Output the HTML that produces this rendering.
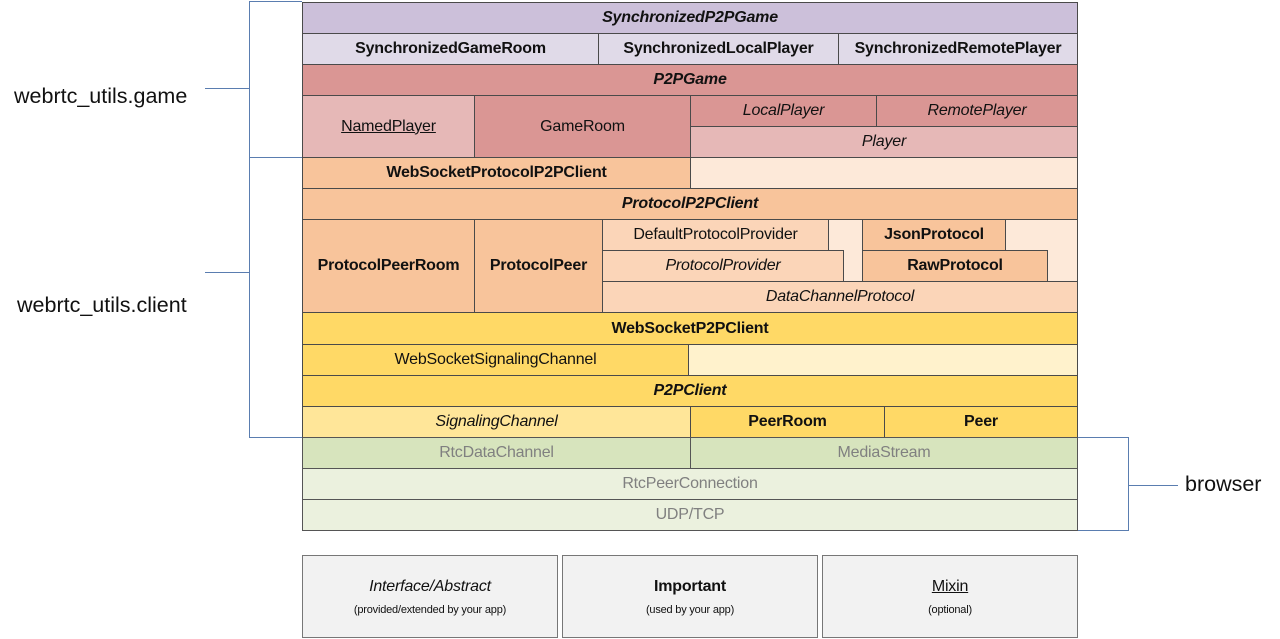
<!DOCTYPE html>
<html><head><meta charset="utf-8"><style>
body{margin:0;width:1280px;height:639px;background:#fff;position:relative;overflow:hidden;font-family:"Liberation Sans",sans-serif;}
.b{position:absolute;box-sizing:border-box;border:1px solid #4a4a4a;display:flex;align-items:center;justify-content:center;font-size:16px;color:#111;white-space:nowrap;letter-spacing:-0.2px}
.i{font-style:italic}.w{font-weight:bold}.u{text-decoration:underline}
.g{color:#808080;border-color:#555}
.l{position:absolute;background:#5a7db0}
.t{position:absolute;font-size:21.5px;color:#111;white-space:nowrap}
</style></head><body>
<div class="l" style="left:249px;top:1px;width:53px;height:1px"></div>
<div class="l" style="left:249px;top:1px;width:1px;height:437px"></div>
<div class="l" style="left:249px;top:157px;width:53px;height:1px"></div>
<div class="l" style="left:249px;top:437px;width:53px;height:1px"></div>
<div class="l" style="left:205px;top:88px;width:44px;height:1px"></div>
<div class="l" style="left:205px;top:272px;width:44px;height:1px"></div>
<div class="l" style="left:1077px;top:437px;width:51px;height:1px"></div>
<div class="l" style="left:1128px;top:437px;width:1px;height:93px"></div>
<div class="l" style="left:1077px;top:530px;width:52px;height:1px"></div>
<div class="l" style="left:1128px;top:485px;width:50px;height:1px"></div>
<div class="t" style="left:14px;top:84px">webrtc_utils.game</div>
<div class="t" style="left:17px;top:293px">webrtc_utils.client</div>
<div class="t" style="left:1185px;top:472px">browser</div>

<div class="b i w" style="left:302px;top:2px;width:776px;height:32px;background:#ccc0da">SynchronizedP2PGame</div>
<div class="b w" style="left:302px;top:33px;width:297px;height:32px;background:#e0dae8">SynchronizedGameRoom</div>
<div class="b w" style="left:598px;top:33px;width:241px;height:32px;background:#e0dae8">SynchronizedLocalPlayer</div>
<div class="b w" style="left:838px;top:33px;width:240px;height:32px;background:#e0dae8">SynchronizedRemotePlayer</div>
<div class="b i w" style="left:302px;top:64px;width:776px;height:32px;background:#da9694">P2PGame</div>
<div class="b u" style="left:302px;top:95px;width:173px;height:63px;background:#e6b8b7">NamedPlayer</div>
<div class="b" style="left:474px;top:95px;width:217px;height:63px;background:#da9694">GameRoom</div>
<div class="b i" style="left:690px;top:95px;width:187px;height:32px;background:#da9694">LocalPlayer</div>
<div class="b i" style="left:876px;top:95px;width:202px;height:32px;background:#da9694">RemotePlayer</div>
<div class="b i" style="left:690px;top:126px;width:388px;height:32px;background:#e6b8b7">Player</div>

<div class="b w" style="left:302px;top:157px;width:389px;height:32px;background:#f8c49b">WebSocketProtocolP2PClient</div>
<div class="b" style="left:690px;top:157px;width:388px;height:32px;background:#fde9d9"></div>
<div class="b i w" style="left:302px;top:188px;width:776px;height:32px;background:#f8c49b">ProtocolP2PClient</div>
<div class="b w" style="left:302px;top:219px;width:173px;height:94px;background:#f8c49b">ProtocolPeerRoom</div>
<div class="b w" style="left:474px;top:219px;width:129px;height:94px;background:#f8c49b">ProtocolPeer</div>
<div class="b" style="left:602px;top:219px;width:476px;height:94px;background:#fde9d9"></div>
<div class="b" style="left:602px;top:219px;width:227px;height:32px;background:#fbd5b8">DefaultProtocolProvider</div>
<div class="b i" style="left:602px;top:250px;width:242px;height:32px;background:#fbd5b8">ProtocolProvider</div>
<div class="b w" style="left:862px;top:219px;width:144px;height:32px;background:#f8c49b">JsonProtocol</div>
<div class="b w" style="left:862px;top:250px;width:186px;height:32px;background:#f8c49b">RawProtocol</div>
<div class="b i" style="left:602px;top:281px;width:476px;height:32px;background:#fbd5b8">DataChannelProtocol</div>

<div class="b w" style="left:302px;top:312px;width:776px;height:33px;background:#ffd966">WebSocketP2PClient</div>
<div class="b" style="left:302px;top:344px;width:387px;height:32px;background:#ffd966">WebSocketSignalingChannel</div>
<div class="b" style="left:688px;top:344px;width:390px;height:32px;background:#fff2cc"></div>
<div class="b i w" style="left:302px;top:375px;width:776px;height:32px;background:#ffd966">P2PClient</div>
<div class="b i" style="left:302px;top:406px;width:389px;height:32px;background:#ffe699">SignalingChannel</div>
<div class="b w" style="left:690px;top:406px;width:195px;height:32px;background:#ffd966">PeerRoom</div>
<div class="b w" style="left:884px;top:406px;width:194px;height:32px;background:#ffd966">Peer</div>

<div class="b g" style="left:302px;top:437px;width:389px;height:32px;background:#d7e4bd">RtcDataChannel</div>
<div class="b g" style="left:690px;top:437px;width:388px;height:32px;background:#d7e4bd">MediaStream</div>
<div class="b g" style="left:302px;top:468px;width:776px;height:32px;background:#ebf1de">RtcPeerConnection</div>
<div class="b g" style="left:302px;top:499px;width:776px;height:32px;background:#ebf1de">UDP/TCP</div>

<div class="b" style="left:302px;top:555px;width:256px;height:83px;background:#f2f2f2;flex-direction:column;border-color:#777"><span class="i">Interface/Abstract</span><span style="font-size:11px;margin-top:8px">(provided/extended by your app)</span></div>
<div class="b" style="left:562px;top:555px;width:256px;height:83px;background:#f2f2f2;flex-direction:column;border-color:#777"><span class="w">Important</span><span style="font-size:11px;margin-top:8px">(used by your app)</span></div>
<div class="b" style="left:822px;top:555px;width:256px;height:83px;background:#f2f2f2;flex-direction:column;border-color:#777"><span class="u">Mixin</span><span style="font-size:11px;margin-top:8px">(optional)</span></div>
</body></html>
